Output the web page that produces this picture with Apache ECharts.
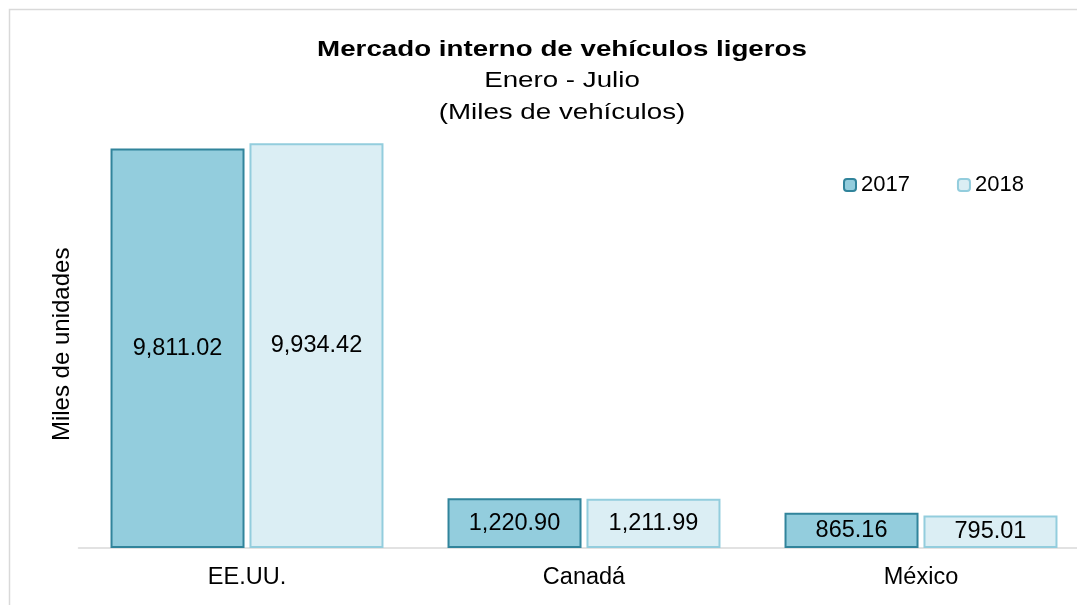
<!DOCTYPE html>
<html>
<head>
<meta charset="utf-8">
<script src="https://cdn.jsdelivr.net/npm/echarts@6/dist/echarts.min.js"></script>
<style>
html,body{margin:0;padding:0;background:#fff;overflow:hidden;width:1077px;height:605px;}
#chart{width:1100px;height:605px;}
</style>
</head>
<body>
<div id="chart"></div>
<script>
const titleLines = ['Mercado interno de vehículos ligeros', 'Enero - Julio', '(Miles de vehículos)'];
const categories = ['EE.UU.', 'Canadá', 'México'];
const seriesNames = ['2017', '2018'];
const values2017 = [9811.02, 1220.90, 865.16];
const values2018 = [9934.42, 1211.99, 795.01];
const yAxisName = 'Miles de unidades';

const FONT = '"Liberation Sans", Arial, sans-serif';
const fmt = v => v.toLocaleString('en-US', {minimumFractionDigits: 2, maximumFractionDigits: 2});

const chart = echarts.init(document.getElementById('chart'), null, {renderer: 'canvas'});

const labelCfg = {
  show: true,
  position: 'inside',
  fontFamily: FONT,
  fontSize: 23.5,
  color: '#000',
  formatter: p => fmt(p.value)
};

chart.setOption({
  animation: false,
  backgroundColor: '#fff',
  textStyle: {fontFamily: FONT},
  graphic: [
    {type: 'rect', silent: true, z: -10,
     shape: {x: 9.5, y: 9.5, width: 1200, height: 800},
     style: {fill: 'none', stroke: '#D9D9D9', lineWidth: 1.5}},
    {type: 'text', x: 562, y: 50, scaleX: 1.26,
     style: {text: titleLines[0], font: 'bold 22px ' + FONT, fill: '#000', align: 'center', verticalAlign: 'middle'}},
    {type: 'text', x: 562, y: 81, scaleX: 1.26,
     style: {text: titleLines[1], font: '22px ' + FONT, fill: '#000', align: 'center', verticalAlign: 'middle'}},
    {type: 'text', x: 562, y: 113, scaleX: 1.26,
     style: {text: titleLines[2], font: '22px ' + FONT, fill: '#000', align: 'center', verticalAlign: 'middle'}}
  ],
  legend: {
    data: seriesNames,
    left: 838,
    top: 169,
    itemWidth: 12,
    itemHeight: 12,
    itemGap: 47,
    textStyle: {fontFamily: FONT, fontSize: 22, color: '#000'}
  },
  grid: {left: 78.5, right: 10.5, top: 140.7, bottom: 57, containLabel: false},
  xAxis: {
    type: 'category',
    data: categories,
    axisLine: {show: true, lineStyle: {color: '#D9D9D9', width: 1.5}},
    axisTick: {show: false},
    axisLabel: {fontFamily: FONT, fontSize: 23.5, color: '#000', margin: 18},
    splitLine: {show: false}
  },
  yAxis: {
    type: 'value',
    min: 0,
    max: 10000,
    interval: 2000,
    name: yAxisName,
    nameLocation: 'middle',
    nameRotate: 90,
    nameGap: 4,
    nameTextStyle: {fontFamily: FONT, fontSize: 24, color: '#000'},
    axisLine: {show: false},
    axisTick: {show: false},
    axisLabel: {show: false},
    splitLine: {show: false}
  },
  series: [
    {
      name: seriesNames[0],
      type: 'bar',
      data: values2017,
      barWidth: 134,
      barGap: '3.7%',
      itemStyle: {color: '#93CDDD', borderColor: '#31849B', borderWidth: 2},
      label: labelCfg
    },
    {
      name: seriesNames[1],
      type: 'bar',
      data: values2018,
      barWidth: 134,
      barGap: '3.7%',
      itemStyle: {color: '#DBEEF4', borderColor: '#93CDDD', borderWidth: 2},
      label: labelCfg
    }
  ]
});
</script>
</body>
</html>
